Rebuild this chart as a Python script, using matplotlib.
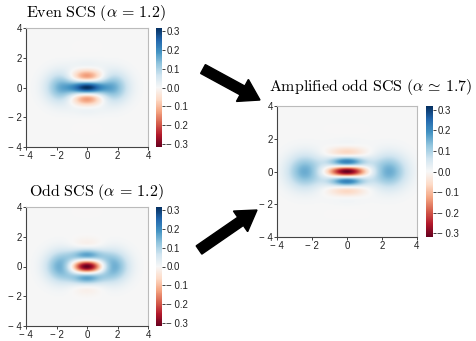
import numpy as np
import matplotlib
matplotlib.use("Agg")
import matplotlib.pyplot as plt
from matplotlib.patches import FancyArrow
from matplotlib.ticker import FuncFormatter
from matplotlib.transforms import IdentityTransform

plt.rcParams['mathtext.fontset'] = 'cm'
plt.rcParams['font.family'] = ['Liberation Sans', 'DejaVu Sans']

# ---- data ----
panel_titles = [r'$\mathrm{Even\ SCS}\ (\alpha\,=\,1.2)$',
                r'$\mathrm{Odd\ SCS}\ (\alpha\,=\,1.2)$',
                r'$\mathrm{Amplified\ odd\ SCS}\ (\alpha\,\simeq\,1.7)$']
panel_alpha = [1.2, 1.2, 1.7]
panel_parity = [+1, -1, -1]          # +1 even cat, -1 odd cat
axis_ticks = [-4, -2, 0, 2, 4]
cbar_ticks = [-0.3, -0.2, -0.1, 0.0, 0.1, 0.2, 0.3]
w_limit = 1 / np.pi

# axes rectangles in pixels: (left, top, width, height); colorbar x, width
W, H = 477, 341
panel_boxes = [(26, 28, 122, 119), (26, 207, 122, 119), (277, 106, 140, 131)]
cbar_boxes = [(156, 6), (156, 6), (426, 7)]
title_pos = [(96, 13), (96, 192), (371, 87)]


def cat_wigner(alpha, parity, x, p):
    x0 = np.sqrt(2) * alpha
    norm = 1.0 / (2 * (1 + parity * np.exp(-2 * alpha ** 2)))
    g1 = np.exp(-(x - x0) ** 2 - p ** 2)
    g2 = np.exp(-(x + x0) ** 2 - p ** 2)
    inter = 2 * parity * np.exp(-x ** 2 - p ** 2) * np.cos(2 * x0 * p)
    return norm * (g1 + g2 + inter) / np.pi


grid = np.linspace(-4, 4, 401)
X, P = np.meshgrid(grid, grid)

fig = plt.figure(figsize=(W / 100, H / 100), dpi=100)


def minus_fmt(v, pos):
    s = f'{abs(v):g}'
    return ('\u2212 ' + s) if v < 0 else s


def cbar_fmt(v, pos):
    s = f'{abs(v):.1f}'
    return ('\u2212 ' + s) if v < -1e-9 else s


for i in range(3):
    l, t, w, h = panel_boxes[i]
    ax = fig.add_axes([l / W, 1 - (t + h) / H, w / W, h / H])
    Z = cat_wigner(panel_alpha[i], panel_parity[i], X, P)
    im = ax.imshow(Z, extent=[-4, 4, -4, 4], origin='lower', cmap='RdBu',
                   vmin=-w_limit, vmax=w_limit, aspect='auto',
                   interpolation='bilinear')
    ax.set_xticks(axis_ticks)
    ax.set_yticks(axis_ticks)
    ax.xaxis.set_major_formatter(FuncFormatter(minus_fmt))
    ax.yaxis.set_major_formatter(FuncFormatter(minus_fmt))
    ax.tick_params(labelsize=7, length=2, width=0.6, pad=1, colors='#222222')
    for side in ['left', 'bottom']:
        ax.spines[side].set_color('#444444')
        ax.spines[side].set_linewidth(0.8)
    for side in ['top', 'right']:
        ax.spines[side].set_color('#bbbbbb')
        ax.spines[side].set_linewidth(0.8)

    cx, cw = cbar_boxes[i]
    cax = fig.add_axes([cx / W, 1 - (t + h) / H, cw / W, h / H])
    cb = fig.colorbar(im, cax=cax, ticks=cbar_ticks, format=FuncFormatter(cbar_fmt))
    cb.outline.set_linewidth(0)
    cax.tick_params(labelsize=7, length=2, width=0.6, pad=1, colors='#222222')

    tx, ty = title_pos[i]
    fig.text(tx / W, 1 - ty / H, panel_titles[i], ha='center', va='center',
             fontsize=11.5)

# arrows (figure pixel coordinates: tail -> tip, y measured from top)
arrow_specs = [((203, 69), (260, 100)), ((199, 250), (257, 210))]
for (x1, y1), (x2, y2) in arrow_specs:
    arr = FancyArrow(x1, H - y1, x2 - x1, -(y2 - y1), width=10, head_width=25,
                     head_length=20, length_includes_head=True,
                     color='black', transform=IdentityTransform())
    fig.add_artist(arr)

fig.savefig('out.png', dpi=100)
